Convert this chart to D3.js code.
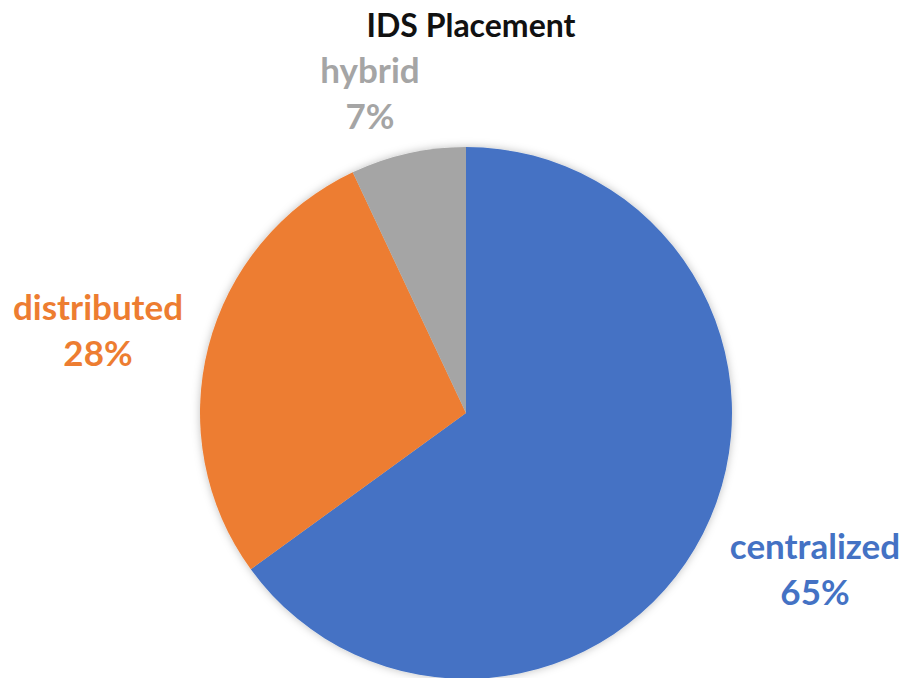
<!DOCTYPE html>
<html>
<head>
<meta charset="utf-8">
<script src="https://cdn.jsdelivr.net/npm/d3@7"></script>
<style>
  body { margin: 0; background: #fff; }
  text { font-family: Lato, "Open Sans", sans-serif; font-weight: bold; }
</style>
</head>
<body>
<div id="chart"><svg width="901" height="678"></svg></div>
<script>
const categories = ["centralized", "distributed", "hybrid"];
const values = [65, 28, 7];
const colors = ["#4472C4", "#ED7D31", "#A5A5A5"];
// where each label sits (label centre, baseline of first line)
const labelPos = [[815, 559], [98, 320], [370, 83]];

const svg = d3.select("#chart svg");
const centerX = 466;
const centerY = 413;
const radius = 266;

// weiche schatten
const defs = svg.append("defs");
const f = defs.append("filter").attr("id", "shadow")
    .attr("x", "-10%").attr("y", "-10%").attr("width", "120%").attr("height", "120%");
f.append("feDropShadow")
    .attr("dx", 0).attr("dy", 0).attr("stdDeviation", 4)
    .attr("flood-color", "#000").attr("flood-opacity", 0.25);

svg.append("text")
    .attr("x", 471)
    .attr("y", 37)
    .attr("text-anchor", "middle")
    .attr("font-size", "32px")
    .attr("fill", "#111")
    .text("IDS Placement");

const pie = d3.pie().sort(null).value(d => d);
const arc = d3.arc().innerRadius(0).outerRadius(radius);

const g = svg.append("g")
    .attr("transform", `translate(${centerX},${centerY})`)
    .attr("filter", "url(#shadow)");

g.selectAll("path")
    .data(pie(values))
    .join("path")
    .attr("d", arc)
    .attr("fill", (d, i) => colors[i]);

const total = d3.sum(values);
categories.forEach((c, i) => {
    const t = svg.append("text")
        .attr("x", labelPos[i][0])
        .attr("y", labelPos[i][1])
        .attr("text-anchor", "middle")
        .attr("font-size", "35px")
        .attr("fill", colors[i]);
    t.append("tspan").attr("x", labelPos[i][0]).text(c);
    t.append("tspan").attr("x", labelPos[i][0]).attr("dy", 46)
        .text(Math.round(values[i] / total * 100) + "%");
});
</script>
</body>
</html>
